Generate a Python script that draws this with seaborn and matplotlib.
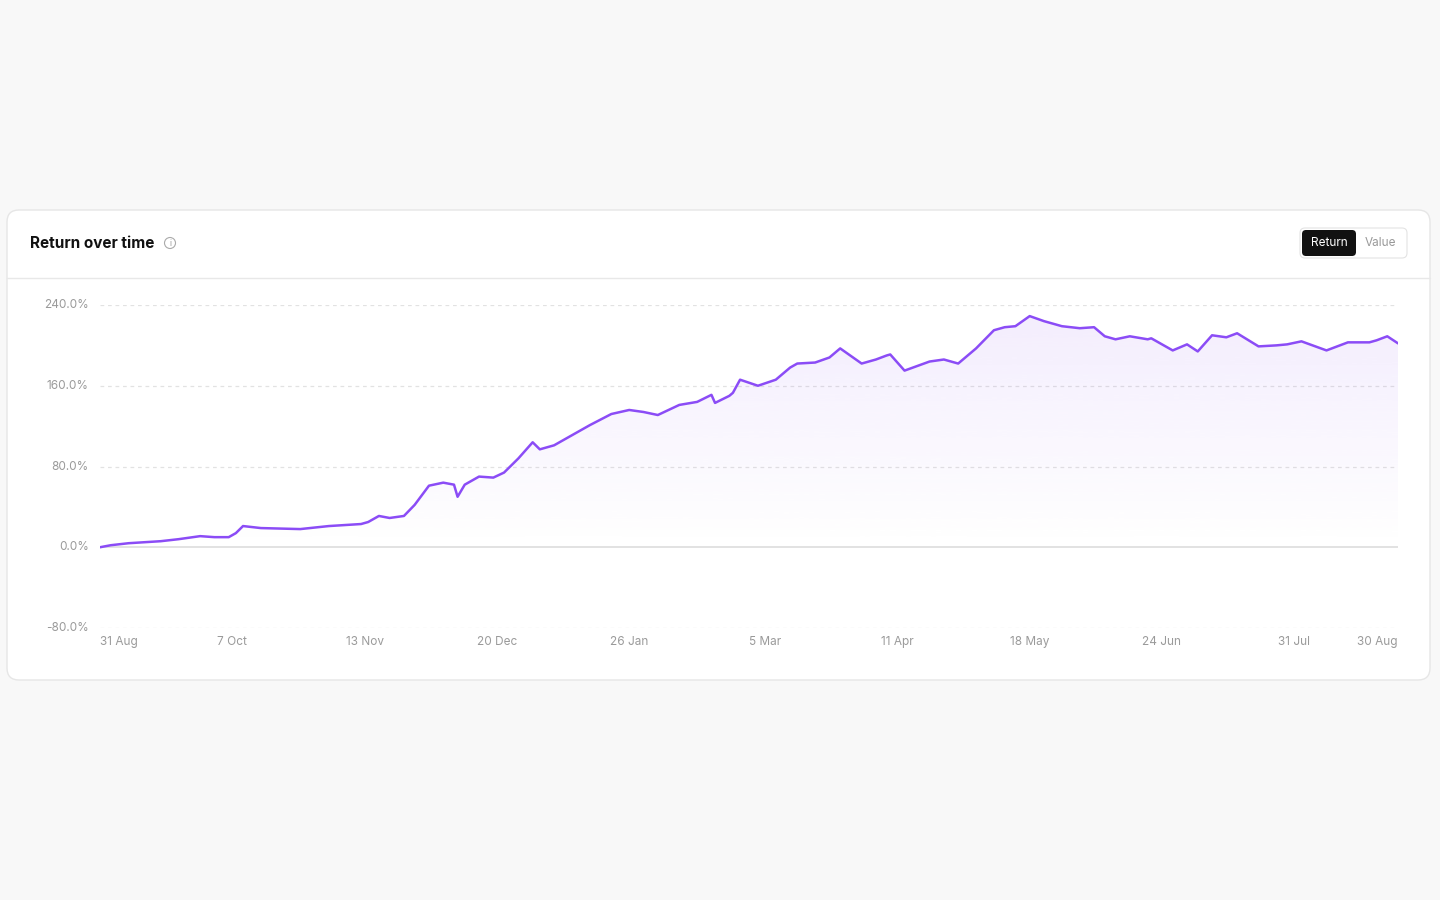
import numpy as np
import pandas as pd
import matplotlib
matplotlib.use('Agg')
import matplotlib.pyplot as plt
import matplotlib.dates as mdates
from matplotlib.patches import FancyBboxPatch, Circle
import seaborn as sns

# data: day offset from 31 Aug, return in %
day_offsets = [0, 3, 8, 17, 22, 28, 32, 36, 38, 40, 45, 56, 64, 73, 75, 78, 81, 85,
               88, 92, 96, 99, 100, 102, 106, 110, 113, 117, 121, 123, 127, 131, 137,
               143, 148, 152, 156, 162, 167, 172, 171, 176, 177, 179, 184, 189, 193,
               195, 200, 204, 207, 213, 217, 220, 221, 225, 232, 236, 240, 245, 250,
               253, 256, 260, 264, 269, 274, 278, 281, 284, 288, 293, 294, 300, 304,
               307, 311, 315, 318, 324, 329, 332, 336, 343, 349, 355, 357, 360, 363]
returns = [0, 2, 4, 6, 8, 11, 10, 10, 14, 21, 19, 18, 21, 23, 25, 31, 29, 31,
           42, 61, 64, 62, 50, 62, 70, 69, 74, 88, 104, 97, 101, 109, 121,
           132, 136, 134, 131, 141, 144, 143, 151, 150, 153, 166, 160, 166, 178,
           182, 183, 188, 197, 182, 186, 190, 191, 175, 184, 186, 182, 197, 215,
           218, 219, 229, 224, 219, 217, 218, 209, 206, 209, 206, 207, 195, 201,
           194, 210, 208, 212, 199, 200, 201, 204, 195, 203, 203, 205, 209, 202]
tick_labels = ['31 Aug', '7 Oct', '13 Nov', '20 Dec', '26 Jan', '5 Mar',
               '11 Apr', '18 May', '24 Jun', '31 Jul', '30 Aug']
tick_offsets = [0, 37, 74, 111, 148, 186, 223, 260, 297, 334, 363]
y_ticks = [-80, 0, 80, 160, 240]

start = pd.Timestamp('2023-08-31')
df = pd.DataFrame({'date': [start + pd.Timedelta(days=d) for d in sorted(day_offsets)],
                   'ret': [r for _, r in sorted(zip(day_offsets, returns), key=lambda t: t[0])]})
tick_dates = [start + pd.Timedelta(days=d) for d in tick_offsets]

sns.set_theme(style='white')
plt.rcParams['font.family'] = ['Inter', 'DejaVu Sans']

W, H = 1440, 900
fig = plt.figure(figsize=(14.4, 9), dpi=100, facecolor='#f8f8f8')

# card
bg = fig.add_axes([0, 0, 1, 1], zorder=0)
bg.set_xlim(0, W); bg.set_ylim(H, 0); bg.axis('off')
bg.add_patch(FancyBboxPatch((7, 210), 1423, 470, boxstyle='round,pad=0,rounding_size=12',
                            fc='white', ec='#e6e6e6', lw=1))
bg.plot([7, 1430], [278, 278], color='#e8e8e8', lw=1)
bg.text(30, 243, 'Return over time', fontsize=11, fontweight='bold', color='#111111', va='center')
bg.add_patch(Circle((170, 243), 5.5, fc='none', ec='#aaaaaa', lw=0.8))
bg.text(170, 243.5, 'i', fontsize=6, color='#999999', ha='center', va='center')
bg.add_patch(FancyBboxPatch((1300, 228), 107, 30, boxstyle='round,pad=0,rounding_size=5',
                            fc='white', ec='#e3e3e3', lw=0.8))
bg.add_patch(FancyBboxPatch((1302, 230), 54, 26, boxstyle='round,pad=0,rounding_size=4',
                            fc='#111111', ec='none'))
bg.text(1329, 243, 'Return', fontsize=8.5, color='white', ha='center', va='center')
bg.text(1380, 243, 'Value', fontsize=8.5, color='#999999', ha='center', va='center')

# chart axes: x 100..1398 px, y 305 (240%) .. 628 (-80%)
ax = fig.add_axes([100 / W, 1 - 628 / H, 1298 / W, 323 / H], zorder=1)
ax.patch.set_alpha(0)
x0, x1 = df['date'].iloc[0], df['date'].iloc[-1]

for yv in y_ticks:
    if yv == 0:
        ax.axhline(0, color='#dddddd', lw=1.2, zorder=1)
    else:
        ax.axhline(yv, color='#e2e2e2', lw=0.9, ls=(0, (3, 3)), zorder=1)

# gradient fill under the line
xn = mdates.date2num(df['date'])
grad = np.linspace(0.10, 0.0, 256).reshape(-1, 1)
cmap = matplotlib.colors.LinearSegmentedColormap.from_list('p', [(0.55, 0.3, 0.95, 0), (0.55, 0.3, 0.95, 1)])
im = ax.imshow(grad, aspect='auto', cmap=cmap, vmin=0, vmax=1,
               extent=[xn[0], xn[-1], 0, max(returns)], origin='upper', zorder=2)
poly = ax.fill_between(df['date'], df['ret'], 0, color='none')
clip = matplotlib.patches.PathPatch(poly.get_paths()[0], transform=ax.transData, fc='none', ec='none')
ax.add_patch(clip)
im.set_clip_path(clip)

sns.lineplot(data=df, x='date', y='ret', ax=ax, color='#8b4cf6', lw=1.8, zorder=3)
ax.set_xlim(x0, x1)
ax.set_ylim(-80, 240)

ax.set_xticks(tick_dates)
ax.set_xticklabels(tick_labels)
ax.set_yticks(y_ticks)
ax.set_yticklabels([f'{v:.1f}%' for v in y_ticks])
ax.tick_params(axis='both', length=0, labelsize=8.5, labelcolor='#9a9a9a')
ax.tick_params(axis='x', pad=6)
ax.tick_params(axis='y', pad=8)
xt = ax.get_xticklabels()
xt[0].set_ha('left'); xt[-1].set_ha('right')
for lbl in ax.get_yticklabels():
    lbl.set_va('center')
ax.set_xlabel(''); ax.set_ylabel('')
for s in ax.spines.values():
    s.set_visible(False)

fig.savefig('out.png', dpi=100, facecolor=fig.get_facecolor())
